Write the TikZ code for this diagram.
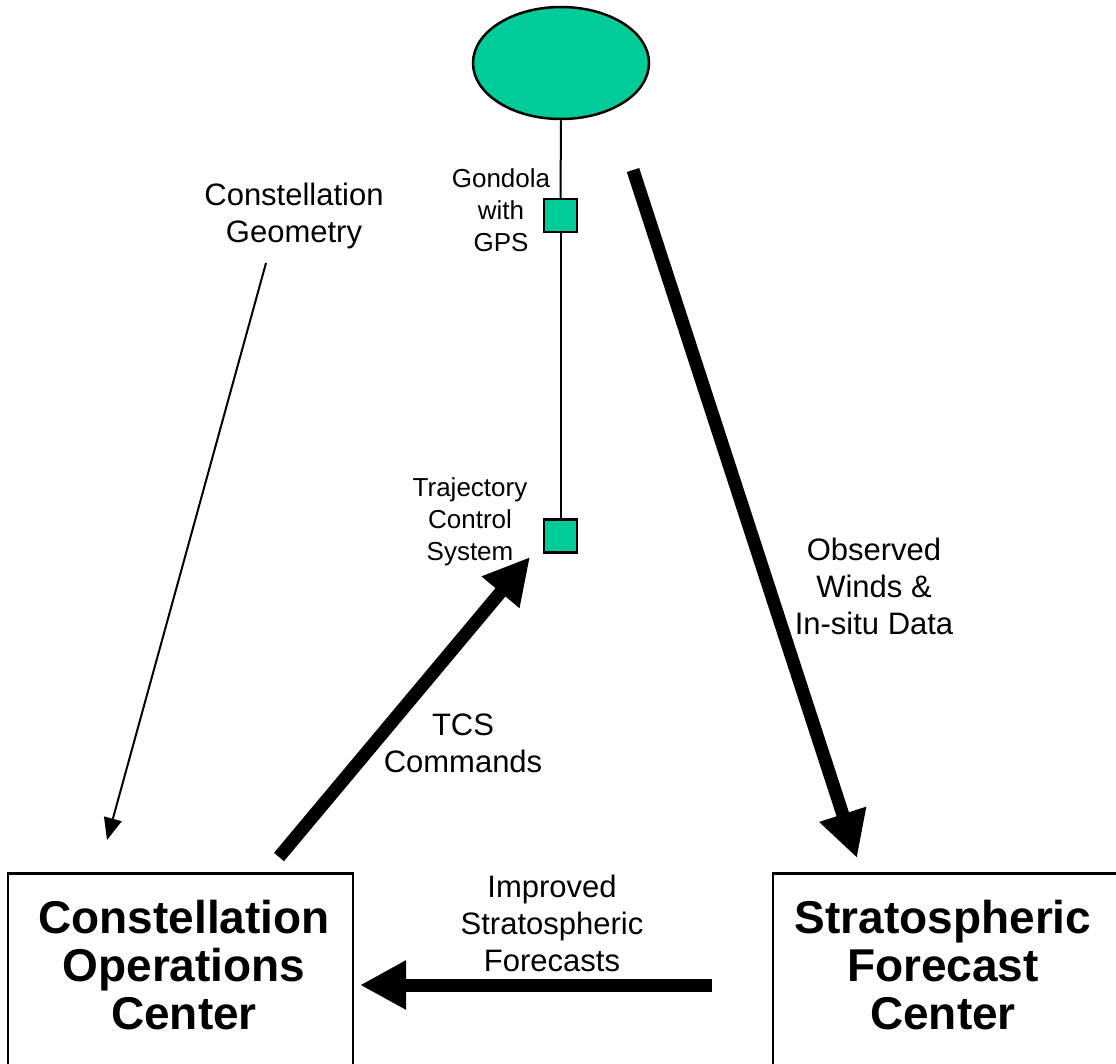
\documentclass[tikz,border=0pt]{standalone}
\usepackage{fontspec}
\setmainfont{Liberation Sans}
\usetikzlibrary{shapes.geometric,arrows.meta}
\definecolor{balloongreen}{RGB}{0,204,153}
\begin{document}
\begin{tikzpicture}[x=1pt,y=-1pt,
  small/.style={align=center,font=\fontsize{26}{32}\selectfont,inner sep=0pt},
  mid/.style={align=center,font=\fontsize{31}{37}\selectfont,inner sep=0pt},
  big/.style={align=center,font=\fontsize{46}{48}\selectfont\bfseries,inner sep=0pt},
  centerbox/.style={draw,line width=2.5pt,minimum height=400pt,anchor=north,inner sep=0pt},
  pod/.style={draw,line width=2.5pt,fill=balloongreen,minimum size=33pt,inner sep=0pt},
  fatarrow/.style={line width=13pt,-{Triangle[length=46pt,width=46pt]}},
  slimarrow/.style={line width=2pt,-{Triangle[length=22pt,width=18pt]}}]
\useasboundingbox (0,0) rectangle (1116,1063);
% balloon and gondolas
\node[ellipse,draw,line width=2.5pt,fill=balloongreen,minimum width=176pt,minimum height=112pt,inner sep=0pt] (balloon) at (561,63) {};
\node[pod] (gps) at (560.5,215.5) {};
\node[pod] (tcsbox) at (560.5,536) {};
\draw[line width=2pt] (balloon.south) -- (gps.north);
\draw[line width=2pt] (gps.south) -- (tcsbox.north);
\node[small] (gpslabel) at (501,210) {Gondola\\with\\GPS};
\node[small] (tcslabel) at (470,522) {Trajectory\\Control\\System};
% centers
\node[centerbox,minimum width=345pt] (cocbox) at (180.5,872) {};
\node[centerbox,minimum width=357pt] (sfcbox) at (951.5,872) {};
\node[big] (coc) at (184,965) {Constellation\\Operations\\Center};
\node[big] (sfc) at (943,965) {Stratospheric\\Forecast\\Center};
% labels
\node[mid] (geom) at (294,216) {Constellation\\Geometry};
\node[mid] (obs) at (874,586) {Observed\\Winds \&\\In-situ Data};
\node[mid] (cmds) at (463,743) {TCS\\Commands};
\node[mid] (fcst) at (552,923) {Improved\\Stratospheric\\Forecasts};
% connector ends
\coordinate (geoS) at (266,263);
\coordinate (geoT) at (107,840);
\coordinate (cmdS) at (279,857);
\coordinate (cmdT) at (530,557);
\coordinate (obsS) at (633,170);
\coordinate (obsT) at (857,858);
\coordinate (fcS) at (712,985);
\coordinate (fcT) at (360,985);
\draw[slimarrow] (geoS) -- (geoT);
\draw[fatarrow] (cmdS) -- (cmdT);
\draw[fatarrow] (obsS) -- (obsT);
\draw[fatarrow] (fcS) -- (fcT);
\end{tikzpicture}
\end{document}
